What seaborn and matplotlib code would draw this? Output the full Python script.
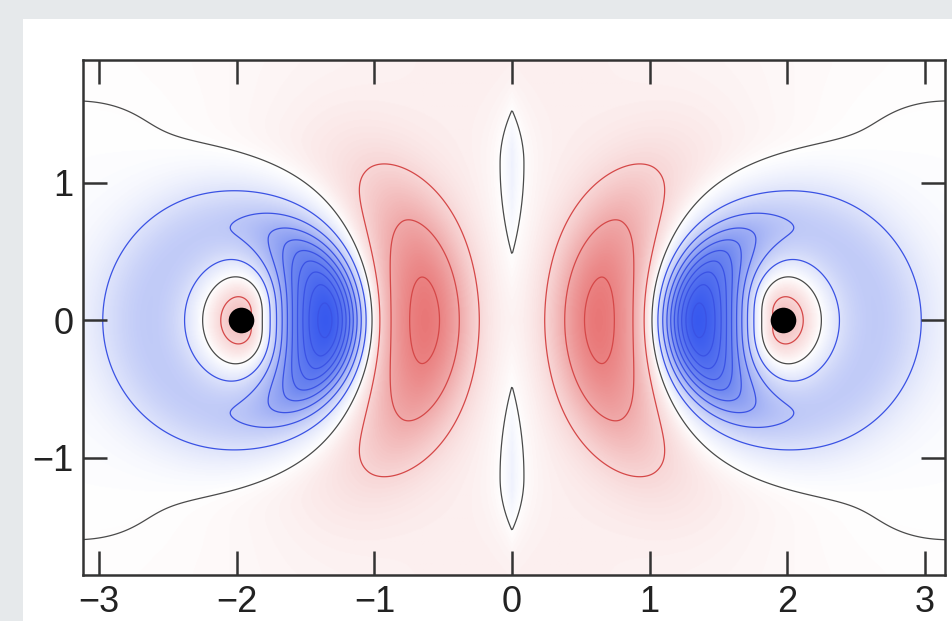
import numpy as np
import matplotlib
matplotlib.use("Agg")
import matplotlib.pyplot as plt
from matplotlib.colors import LinearSegmentedColormap, Normalize
from matplotlib.patches import Rectangle
import seaborn as sns

# ---------------- data ----------------
NUCLEUS_X = [-1.97, 1.97]
NUCLEUS_Y = [0.0, 0.0]
X_TICKS = [-3, -2, -1, 0, 1, 2, 3]
Y_TICKS = [-1, 0, 1]
X_LIM = [-3.118, 3.147]
Y_LIM = [-1.854, 1.895]
NEG_LEVELS = [-9, -8, -7, -6, -5, -4, -3, -2, -1]
ZERO_LEVEL = [0]
POS_LEVELS = [1, 2, 3]

# field components per nucleus (amplitude, radius, widths, angular power)
CORE = [1.7, 0.23, 0.34]                   # amp, sigma_x, sigma_y
ISO_SHELL = [-1.92, 0.65, 0.29]            # amp, radius, width
DIR_SHELL = [-7.0, 0.62, 0.23, 0.15, 4.6]  # amp, radius, w_in, w_out, power
DIR_SHELL2 = [-0.9, 0.65, 0.22, 0.15, 1.5]  # amp, radius, w_in, w_out, power
RED_SHELL = [3.05, -0.40, 1.72, 0.315, 0.25, 15.0]  # amp, centre offset, radius, w_in, w_out, power
RED_HALO = [0.25, -0.40, 1.72, 0.5, 0.3, 3.0]       # amp, centre offset, radius, w_in, w_out, power
SIDE_RING = [0.55, 1.2, 0.22, 2.0]         # amp, radius, width, forward power (peaks off-axis)
OUTER_LOBE = [-0.14, 1.35, 0.44, 1.2]      # amp, radius, width, power
BACKGROUND = [0.406, 1.4, 0.7, 0.5]        # amp, sigma_x, notch depth, notch sigma_y
LENS = [-0.9, 0.105, 1.15, 0.5, 0.3]       # amp, x decay, y centre, sigma_in, sigma_out

# colours
CMAP_STOPS = [(-9.5, "#3758ee"), (-5.0, "#6e87f0"), (-3.0, "#a0aff5"),
              (-1.5, "#cdd5f9"), (0.0, "#ffffff"), (1.0, "#f8d7d7"),
              (2.0, "#f0aaaa"), (3.3, "#e97878"), (4.0, "#e26464")]
BLUE_LINE = "#3a52e4"
RED_LINE = "#d54848"
ZERO_LINE = "#4a4a4a"


def asym_gauss(r, r0, w_in, w_out):
    w = np.where(r < r0, w_in, w_out)
    return np.exp(-(r - r0) ** 2 / (2 * w ** 2))


def crescent(dx, y, params):
    amp, off, rad, w_in, w_out, power = params
    dxp = dx - off
    rp = np.hypot(dxp, y) + 1e-9
    cp = dxp / rp
    return amp * asym_gauss(rp, rad, w_in, w_out) * ((1 + cp) / 2) ** power


def shell(r, c, params):
    amp, rad, w_in, w_out, power = params
    return amp * asym_gauss(r, rad, w_in, w_out) * ((1 + c) / 2) ** power


def nucleus_field(x, y, x0):
    s = -np.sign(x0)
    dx = s * (x - x0)
    r = np.hypot(dx, y) + 1e-9
    c = dx / r
    f = CORE[0] * np.exp(-(dx ** 2) / (2 * CORE[1] ** 2) - y ** 2 / (2 * CORE[2] ** 2))
    f += ISO_SHELL[0] * np.exp(-(r - ISO_SHELL[1]) ** 2 / (2 * ISO_SHELL[2] ** 2))
    f += shell(r, c, DIR_SHELL)
    f += shell(r, c, DIR_SHELL2)
    f += crescent(dx, y, RED_SHELL)
    f += crescent(dx, y, RED_HALO)
    f += (SIDE_RING[0] * np.exp(-(r - SIDE_RING[1]) ** 2 / (2 * SIDE_RING[2] ** 2))
          * (1 - c ** 2) * ((1 + c) / 2) ** SIDE_RING[3])
    f += OUTER_LOBE[0] * np.exp(-(r - OUTER_LOBE[1]) ** 2 / (2 * OUTER_LOBE[2] ** 2)) * ((1 - c) / 2) ** OUTER_LOBE[3]
    return f


xs = np.linspace(X_LIM[0], X_LIM[1], 900)
ys = np.linspace(Y_LIM[0], Y_LIM[1], 560)
X, Y = np.meshgrid(xs, ys)
Z = sum(nucleus_field(X, Y, x0) for x0 in NUCLEUS_X)
Z += BACKGROUND[0] * np.exp(-X ** 2 / (2 * BACKGROUND[1] ** 2)) * (1 - BACKGROUND[2] * np.exp(-Y ** 2 / (2 * BACKGROUND[3] ** 2)))
Z += LENS[0] * np.exp(-np.abs(X) / LENS[1]) * asym_gauss(np.abs(Y), LENS[2], LENS[3], LENS[4])

# ---------------- style ----------------
sns.set_theme(style="white")
plt.rcParams["font.family"] = ["Liberation Sans", "DejaVu Sans"]

vmin, vmax = CMAP_STOPS[0][0], CMAP_STOPS[-1][0]
cmap = LinearSegmentedColormap.from_list(
    "orb", [((v - vmin) / (vmax - vmin), col) for v, col in CMAP_STOPS])
norm = Normalize(vmin=vmin, vmax=vmax)

fig = plt.figure(figsize=(9.52, 6.21), dpi=100)
fig.patch.set_facecolor("#e6e9eb")
fig.patches.append(Rectangle((23 / 952, 0), 1 - 23 / 952, (621 - 19) / 621,
                             transform=fig.transFigure, facecolor="white",
                             edgecolor="none", zorder=-10))
ax = fig.add_axes([83 / 952, 46 / 621, 862 / 952, 515 / 621])
ax.set_zorder(5)
ax.set_axisbelow(False)

ax.imshow(Z, extent=[X_LIM[0], X_LIM[1], Y_LIM[0], Y_LIM[1]], origin="lower",
          cmap=cmap, norm=norm, interpolation="bilinear", aspect="auto", zorder=1)
ax.contour(X, Y, Z, levels=NEG_LEVELS, colors=BLUE_LINE, linewidths=0.9,
           linestyles="solid", zorder=2)
ax.contour(X, Y, Z, levels=ZERO_LEVEL, colors=ZERO_LINE, linewidths=0.9, zorder=2)
ax.contour(X, Y, Z, levels=POS_LEVELS, colors=RED_LINE, linewidths=0.9, zorder=2)

sns.scatterplot(x=NUCLEUS_X, y=NUCLEUS_Y, s=340, color="black", edgecolor="black",
                linewidth=0, ax=ax, legend=False, zorder=5)

ax.set_xlim(X_LIM)
ax.set_ylim(Y_LIM)
ax.set_xticks(X_TICKS)
ax.set_yticks(Y_TICKS)
ax.tick_params(direction="in", length=17, width=1.8, color="#333333",
               bottom=True, left=True, top=True, right=True,
               labelsize=26, labelcolor="#222222", pad=7)
for sp in ax.spines.values():
    sp.set_visible(True)
    sp.set_linewidth(1.8)
    sp.set_color("#333333")
    sp.set_zorder(10)
ax.set_xlabel("")
ax.set_ylabel("")

fig.savefig("out.png", dpi=100)
